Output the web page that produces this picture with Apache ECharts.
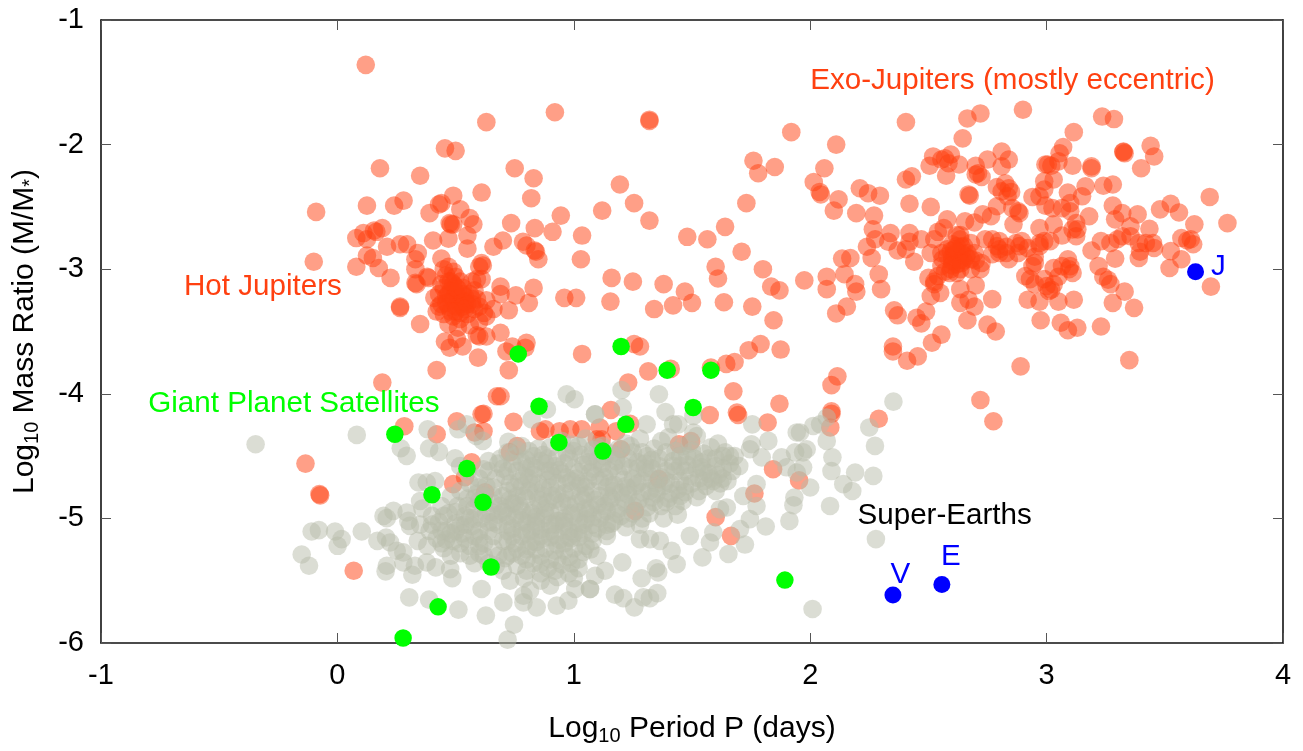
<!DOCTYPE html>
<html><head><meta charset="utf-8">
<style>html,body{margin:0;padding:0;background:#fff}#c{width:1303px;height:751px}</style>
<script src="https://cdn.jsdelivr.net/npm/echarts@6/dist/echarts.min.js"></script>
</head><body><div id="c"></div>
<script>
const xTicks=[-1,0,1,2,3,4];
const yTicks=[-6,-5,-4,-3,-2,-1];
const hotJupiters=[[.12,-1.36],[.63,-1.82],[.92,-1.74],[1.32,-1.80],[1.32,-1.81],[.455,-2.03],[.50,-2.05],[.18,-2.19],[.35,-2.25],[.75,-2.19],[.83,-2.27],[.82,-2.43],[1.195,-2.32],[1.255,-2.47],[1.32,-2.61],[1.12,-2.53],[.945,-2.57],[.91,-2.70],[1.035,-2.73],[1.03,-2.92],[-.09,-2.54],[-.10,-2.94],[.125,-2.49],[.24,-2.49],[.28,-2.45],[.08,-2.75],[.11,-2.71],[.125,-2.76],[.155,-2.69],[.165,-2.70],[.19,-2.67],[.21,-2.82],[.265,-2.80],[.295,-2.80],[.08,-2.98],[.125,-2.89],[.15,-2.91],[.175,-2.99],[.225,-3.07],[.265,-3.30],[.265,-3.31],[.35,-3.44],[.33,-3.11],[.335,-3.12],[.33,-2.92],[.34,-2.87],[.33,-3.0],[.38,-3.06],[.385,-3.07],[.405,-2.77],[.39,-2.55],[.43,-2.48],[.44,-2.47],[.49,-2.41],[.52,-2.52],[.56,-2.59],[.575,-2.64],[.475,-2.63],[.48,-2.64],[.49,-2.64],[.47,-2.755],[.55,-2.73],[.55,-2.835],[.61,-2.385],[.735,-2.63],[.835,-2.67],[.66,-2.82],[.70,-2.77],[.785,-2.78],[.80,-2.81],[.835,-2.85],[.84,-2.86],[.85,-2.92],[.44,-2.915],[.61,-2.95],[.615,-2.97],[.60,-2.98]];
const hotCore=[[.45,-3.0],[.47,-2.98],[.49,-3.02],[.46,-3.05],[.50,-3.06],[.47,-3.1],[.49,-3.12],[.52,-3.1],[.45,-3.15],[.48,-3.17],[.50,-3.18],[.53,-3.2],[.46,-3.22],[.49,-3.24],[.51,-3.25],[.54,-3.22],[.56,-3.2],[.58,-3.17],[.43,-3.2],[.41,-3.23],[.44,-3.28],[.47,-3.3],[.5,-3.3],[.53,-3.3],[.55,-3.28],[.57,-3.28],[.6,-3.3],[.52,-3.35],[.49,-3.38],[.55,-3.36],[.58,-3.32],[.62,-3.35],[.45,-3.36],[.42,-3.34],[.59,-3.08],[.61,-3.08],[.57,-3.1],[.47,-3.44],[.51,-3.47],[.56,-3.45],[.6,-3.42],[.63,-3.38],[.66,-3.32],[.63,-3.25],[.51,-3.22],[.48,-3.25],[.52,-3.28],[.5,-3.14],[.47,-3.2],[.54,-3.26],[.48,-3.1],[.51,-3.16],[.53,-3.15],[.46,-3.27],[.5,-3.34],[.54,-3.32],[.57,-3.24],[.44,-3.12],[.43,-3.3],[.59,-3.24],[.52,-3.4],[.48,-3.34]];
const hotOuter=[[.69,-3.14],[.69,-3.2],[.755,-3.21],[.83,-3.15],[.81,-3.27],[.725,-3.33],[.69,-3.51],[.60,-3.54],[.59,-3.53],[.63,-3.54],[.455,-3.58],[.475,-3.63],[.505,-3.56],[.53,-3.62],[.595,-3.71],[.715,-3.66],[.74,-3.62],[.795,-3.63],[.80,-3.59],[.42,-3.81],[.725,-3.81],[.19,-3.91],[1.035,-3.68],[.96,-3.23],[1.01,-3.23],[1.16,-3.07],[1.155,-3.26],[1.25,-3.10],[1.34,-3.32],[1.38,-3.12],[1.42,-3.29],[1.47,-3.18],[1.255,-3.60],[1.28,-3.62],[1.23,-3.91],[1.315,-3.82],[1.41,-3.80]];
const exoMiddle=[[1.48,-2.74],[1.565,-2.76],[1.64,-2.66],[1.73,-2.47],[1.76,-2.13],[1.85,-2.18],[1.78,-2.23],[1.92,-1.90],[2.11,-2.0],[2.06,-2.19],[2.015,-2.30],[2.04,-2.38],[2.045,-2.40],[2.12,-2.44],[2.10,-2.53],[2.195,-2.55],[2.21,-2.35],[2.245,-2.39],[2.295,-2.41],[2.27,-2.57],[2.265,-2.68],[2.275,-2.76],[2.24,-2.82],[2.26,-2.91],[1.60,-2.98],[1.61,-3.075],[1.71,-2.86],[1.80,-3.0],[1.835,-3.14],[1.87,-3.17],[1.975,-3.09],[2.07,-3.06],[2.07,-3.16],[2.135,-2.915],[2.17,-2.91],[2.145,-3.04],[2.19,-3.12],[2.195,-3.18],[2.29,-3.04],[2.30,-3.16],[2.155,-3.30],[2.11,-3.355],[1.635,-3.265],[1.755,-3.30],[1.50,-3.27],[1.845,-3.41],[1.74,-3.65],[1.79,-3.60],[1.875,-3.645],[1.645,-3.76],[1.68,-3.745],[1.58,-3.79],[1.675,-3.98],[1.87,-4.08],[1.575,-4.17],[1.69,-4.15],[1.695,-4.17],[1.82,-4.23],[2.115,-3.86],[2.09,-3.93],[2.09,-4.14],[2.09,-4.16],[2.085,-4.27],[2.29,-4.20]];
const exoLeftRing=[[2.34,-2.71],[2.33,-2.78],[2.37,-2.85],[2.42,-2.71],[2.42,-2.78],[2.405,-2.84],[2.44,-2.94],[2.47,-2.76],[2.405,-1.82],[2.405,-2.28],[2.43,-2.255],[2.42,-2.475],[2.51,-2.50],[2.52,-2.095],[2.555,-2.12],[2.595,-2.08],[2.585,-2.15],[2.505,-2.17],[2.575,-2.25],[2.63,-2.16],[2.57,-2.11],[2.665,-1.79],[2.72,-1.75],[2.90,-1.72],[3.235,-1.775],[3.285,-1.795],[2.645,-1.95],[3.115,-1.90],[3.07,-2.02],[3.055,-2.07],[3.05,-2.135],[3.44,-2.01],[3.455,-2.095],[3.325,-2.055],[3.325,-2.06],[3.33,-2.07],[3.40,-2.19]];
const exoUpper=[[2.70,-2.17],[2.70,-2.24],[2.725,-2.26],[2.71,-2.23],[2.75,-2.12],[2.81,-2.055],[2.84,-2.12],[2.81,-2.175],[2.995,-2.16],[3.005,-2.16],[3.02,-2.17],[3.11,-2.17],[3.19,-2.175],[3.19,-2.19],[2.67,-2.40],[2.675,-2.41],[2.79,-2.34],[2.825,-2.31],[2.84,-2.35],[2.85,-2.38],[2.81,-2.375],[2.835,-2.415],[2.99,-2.295],[3.03,-2.28],[2.99,-2.36],[2.94,-2.42],[2.97,-2.415],[2.995,-2.49],[3.09,-2.385],[3.165,-2.335],[3.15,-2.415],[3.10,-2.47],[3.065,-2.51],[3.025,-2.51],[3.10,-2.535],[3.18,-2.575],[3.24,-2.33],[3.28,-2.32],[3.28,-2.49],[3.32,-2.55],[3.29,-2.60],[3.385,-2.56],[3.355,-2.655],[3.435,-2.675],[3.48,-2.52],[3.525,-2.475],[3.56,-2.545],[3.625,-2.64],[3.57,-2.75],[3.61,-2.76],[3.595,-2.77],[3.62,-2.80],[2.79,-2.495],[2.765,-2.575],[2.88,-2.535],[2.855,-2.51],[2.885,-2.55],[2.86,-2.64],[2.73,-2.56],[2.695,-2.625],[2.655,-2.615]];
const exoMain=[[2.97,-2.67],[3.03,-2.64],[2.99,-2.775],[2.97,-2.79],[3.015,-2.775],[3.065,-2.73],[3.125,-2.63],[3.13,-2.68],[3.11,-2.68],[3.125,-2.735],[2.58,-2.60],[2.565,-2.67],[2.54,-2.70],[2.525,-2.76],[3.19,-2.85],[3.23,-2.775],[3.27,-2.79],[3.29,-2.915],[3.32,-2.735],[3.30,-2.76],[3.355,-2.735],[3.39,-2.79],[3.395,-2.86],[3.39,-2.91],[3.42,-2.79],[3.455,-2.83],[3.45,-2.79],[3.525,-2.855],[3.57,-2.92],[3.52,-2.99],[3.22,-2.975],[3.24,-3.06],[3.26,-3.085],[3.27,-3.12],[3.03,-2.99],[3.065,-2.975],[3.09,-2.92],[3.10,-2.975],[3.11,-3.03],[3.095,-3.0],[3.05,-3.06],[2.91,-3.055],[2.93,-3.08],[2.95,-3.12],[2.99,-3.08],[3.0,-3.135],[3.02,-3.165],[3.01,-3.175],[3.03,-3.12],[2.92,-3.245],[2.97,-3.26],[3.05,-3.26],[3.115,-3.245],[2.95,-2.90],[2.94,-2.975],[2.95,-2.95],[2.97,-2.815],[2.74,-2.76],[2.77,-2.76],[2.79,-2.815],[2.80,-2.87],[2.77,-2.88],[2.83,-2.87],[2.84,-2.92],[2.87,-2.79],[2.895,-2.775],[2.885,-2.815],[2.80,-2.775]];
const exoCore=[[2.595,-2.855],[2.62,-2.815],[2.635,-2.76],[2.64,-2.87],[2.665,-2.87],[2.635,-2.925],[2.60,-2.935],[2.58,-2.895],[2.555,-2.87],[2.595,-3.0],[2.555,-2.975],[2.54,-3.055],[2.525,-3.12],[2.51,-3.215],[2.55,-3.19],[2.51,-2.87],[2.635,-3.0],[2.68,-3.0],[2.72,-3.0],[2.725,-2.95],[2.695,-2.87],[2.635,-2.725],[2.65,-2.815],[2.68,-2.79],[2.62,-2.725],[2.50,-3.07],[2.635,-3.16],[2.70,-3.13],[2.67,-3.245],[2.635,-3.27],[2.695,-3.30],[2.77,-3.24],[2.525,-3.10],[2.59,-3.03],[2.62,-3.03],[2.61,-2.88],[2.63,-2.90],[2.65,-2.93],[2.6,-2.9],[2.62,-2.96],[2.6,-2.8],[2.64,-2.82],[2.58,-2.84],[2.62,-2.86],[2.66,-2.9],[2.56,-2.92],[2.6,-2.97],[2.64,-2.95],[2.57,-3.02],[2.68,-2.92],[2.61,-2.84],[2.7,-2.93],[2.83,-2.82],[2.8,-2.84],[2.88,-2.87],[2.92,-2.83]];
const exoLower=[[2.355,-3.33],[2.37,-3.37],[2.45,-3.39],[2.47,-3.435],[2.49,-3.34],[2.555,-3.525],[2.515,-3.59],[2.35,-3.62],[2.35,-3.66],[2.41,-3.735],[2.455,-3.70],[2.665,-3.41],[2.75,-3.445],[2.785,-3.50],[2.975,-3.41],[3.06,-3.43],[3.09,-3.49],[3.13,-3.47],[3.23,-3.46],[3.35,-3.73],[2.89,-3.78],[2.72,-4.05],[2.775,-4.22],[3.37,-3.31],[3.28,-3.27],[3.33,-3.18],[3.695,-3.14],[3.69,-2.42],[3.765,-2.63]];
const lowOrange=[[.675,-4.02],[.69,-4.02],[.618,-4.16],[.61,-4.165],[.505,-4.22],[.283,-4.26],[.42,-4.325],[.745,-4.225],[.58,-4.31],[.618,-4.30],[.857,-4.30],[.88,-4.285],[.94,-4.30],[.985,-4.285],[1.033,-4.285],[1.097,-4.365],[.76,-4.42],[.73,-4.47],[.568,-4.55],[.54,-4.67],[.49,-4.725],[.625,-4.79],[-.135,-4.56],[-.076,-4.805],[-.073,-4.815],[.069,-5.42],[1.157,-4.13],[1.238,-4.24],[1.18,-4.30],[1.11,-4.27],[1.118,-4.365],[1.2,-4.445],[1.445,-4.405],[1.496,-4.38],[1.843,-4.605],[1.953,-4.695],[1.764,-4.80],[1.60,-4.99],[1.665,-5.14],[1.259,-4.94],[1.36,-4.685]];
const earthsLeft=[[-.346,-4.405],[.082,-4.33],[.382,-4.285],[.512,-4.285],[.547,-4.245],[.268,-4.437],[.293,-4.498],[.388,-4.437],[.43,-4.466],[.498,-4.517],[.519,-4.58],[.615,-4.378],[.587,-4.338],[.723,-4.386],[.822,-4.205],[.886,-4.125],[.97,-4.004],[1.003,-4.044],[1.09,-4.165],[.639,-4.54],[.618,-4.605],[.343,-4.712],[.378,-4.712],[.413,-4.70],[.35,-4.86],[.195,-4.98],[.209,-4.998],[.237,-4.94],[.293,-4.953],[.30,-5.02],[.307,-5.06],[-.109,-5.105],[-.078,-5.094],[-.01,-5.105],[.018,-5.166],[.001,-5.22],[.103,-5.105],[-.151,-5.29],[-.12,-5.38],[.169,-5.18],[.206,-5.153],[.223,-5.193],[.251,-5.26],[.279,-5.273],[.209,-5.38],[.204,-5.425],[.279,-5.353],[.328,-5.38],[.317,-5.452],[.378,-5.353],[.416,-5.393],[.477,-5.407],[.486,-5.479],[.61,-5.567],[.304,-5.634],[.388,-5.652],[.512,-5.732],[.628,-5.78],[.747,-5.853],[.72,-5.973],[.702,-5.674],[.787,-5.674],[.843,-5.714],[.928,-5.70],[.977,-5.66],[1.069,-5.567],[1.006,-5.567],[.90,-5.54],[.815,-5.58],[.787,-5.62]];
const earthsLeftMid=[[.36,-4.92],[.4,-4.98],[.44,-4.9],[.48,-4.82],[.52,-4.78],[.56,-4.72],[.6,-4.68],[.64,-4.62],[.68,-4.56],[.35,-5.05],[.39,-5.1],[.43,-5.03],[.47,-4.96],[.51,-4.9],[.55,-4.84],[.59,-4.8],[.63,-4.74],[.67,-4.68],[.34,-5.18],[.38,-5.22],[.42,-5.16],[.46,-5.1],[.5,-5.04],[.54,-4.98],[.58,-4.92],[.62,-4.88],[.66,-4.82],[.45,-5.24],[.49,-5.18],[.53,-5.12],[.57,-5.06],[.61,-5.0],[.65,-4.95],[.69,-4.9],[.52,-5.28],[.56,-5.22],[.6,-5.16],[.64,-5.1],[.68,-5.05],[.58,-5.36],[.62,-5.3],[.66,-5.24],[.7,-5.18],[.67,-5.38],[.71,-5.32]];
const earthsCoreA=[[.72,-4.47],[.78,-4.42],[.83,-4.5],[.9,-4.43],[.95,-4.38],[1.0,-4.46],[1.05,-4.36],[1.1,-4.43],[1.16,-4.48],[1.22,-4.4],[1.28,-4.36],[1.34,-4.44],[1.4,-4.35],[1.46,-4.42],[1.52,-4.34],[1.58,-4.43],[1.64,-4.47],[.74,-4.56],[.8,-4.6],[.86,-4.54],[.92,-4.58],[.98,-4.52],[1.04,-4.57],[1.1,-4.53],[1.17,-4.58],[1.23,-4.52],[1.3,-4.56],[1.36,-4.52],[1.42,-4.58],[1.48,-4.5],[1.54,-4.55],[1.6,-4.52],[1.66,-4.56],[.71,-4.66],[.77,-4.7],[.83,-4.65],[.89,-4.69],[.95,-4.64],[1.01,-4.68],[1.07,-4.63],[1.13,-4.67],[1.19,-4.64],[1.25,-4.68],[1.31,-4.63],[1.37,-4.67],[1.43,-4.62],[1.49,-4.66],[1.55,-4.62],[1.61,-4.65],[1.67,-4.62]];
const earthsCoreB=[[.72,-4.78],[.78,-4.74],[.84,-4.79],[.9,-4.75],[.96,-4.8],[1.02,-4.74],[1.08,-4.78],[1.14,-4.75],[1.2,-4.79],[1.26,-4.74],[1.32,-4.78],[1.38,-4.74],[1.44,-4.77],[1.5,-4.72],[1.56,-4.74],[1.62,-4.72],[.74,-4.88],[.8,-4.84],[.86,-4.89],[.92,-4.85],[.98,-4.9],[1.04,-4.85],[1.1,-4.89],[1.16,-4.84],[1.22,-4.88],[1.28,-4.84],[1.34,-4.87],[1.4,-4.84],[1.46,-4.86],[1.52,-4.83],[.72,-4.98],[.78,-4.94],[.84,-4.99],[.9,-4.95],[.96,-5.0],[1.02,-4.95],[1.08,-4.99],[1.14,-4.94],[1.2,-4.98],[1.32,-4.96],[1.38,-5.0],[1.44,-4.97],[.74,-5.08],[.8,-5.04],[.86,-5.09],[.92,-5.05],[.98,-5.1],[1.04,-5.05],[1.1,-5.08],[1.16,-5.04],[1.22,-5.07],[1.28,-5.05]];
const earthsCoreC=[[.72,-5.18],[.78,-5.14],[.84,-5.19],[.9,-5.15],[.96,-5.2],[1.02,-5.15],[1.08,-5.18],[1.14,-5.14],[.74,-5.28],[.8,-5.25],[.86,-5.3],[.92,-5.26],[.98,-5.31],[1.04,-5.27],[1.1,-5.3],[.76,-5.38],[.83,-5.36],[.89,-5.4],[.95,-5.37],[1.02,-5.4],[.79,-5.48],[.86,-5.5],[.93,-5.47],[1.0,-5.48],[.73,-5.5],[.88,-4.62],[.97,-4.72],[1.06,-4.7],[1.15,-4.82],[.88,-4.92],[.94,-5.02],[1.0,-5.12],[.82,-5.1],[1.12,-4.6],[1.27,-4.6],[1.35,-4.72],[1.45,-4.7],[1.52,-4.6],[1.58,-4.68],[.76,-4.82],[.82,-4.72],[1.22,-4.74],[1.05,-4.92]];
const earthsCoreD=[[.75,-4.5],[.81,-4.46],[.87,-4.49],[.93,-4.51],[.99,-4.41],[1.03,-4.49],[1.08,-4.45],[1.13,-4.5],[1.19,-4.44],[1.25,-4.47],[1.31,-4.5],[1.37,-4.38],[1.43,-4.46],[1.49,-4.4],[1.55,-4.48],[1.61,-4.4],[1.68,-4.5],[.7,-4.6],[.76,-4.62],[.82,-4.58],[.88,-4.56],[.94,-4.61],[1.0,-4.6],[1.06,-4.55],[1.12,-4.56],[1.18,-4.54],[1.24,-4.6],[1.3,-4.6],[1.36,-4.58],[1.42,-4.54],[1.48,-4.57],[1.54,-4.59],[1.6,-4.58],[1.66,-4.5],[1.7,-4.58],[.73,-4.72],[.79,-4.66],[.85,-4.72],[.91,-4.66],[.97,-4.67],[1.03,-4.72],[1.09,-4.66],[1.15,-4.72],[1.21,-4.69],[1.27,-4.72],[1.33,-4.69],[1.39,-4.7],[1.47,-4.62],[1.53,-4.68],[1.59,-4.7],[1.65,-4.7]];
const earthsCoreE=[[.7,-4.82],[.75,-4.88],[.81,-4.78],[.87,-4.82],[.93,-4.8],[.99,-4.78],[1.05,-4.81],[1.11,-4.82],[1.17,-4.78],[1.23,-4.81],[1.29,-4.79],[1.35,-4.8],[1.41,-4.8],[1.47,-4.79],[1.53,-4.78],[1.6,-4.78],[.71,-4.92],[.77,-4.9],[.83,-4.93],[.89,-4.87],[.95,-4.87],[1.01,-4.88],[1.07,-4.92],[1.13,-4.9],[1.19,-4.92],[1.25,-4.9],[1.31,-4.91],[1.37,-4.9],[1.43,-4.9],[.75,-5.0],[.81,-4.98],[.87,-5.0],[.93,-5.02],[.99,-4.96],[1.05,-5.01],[1.11,-5.0],[1.17,-5.02],[1.23,-5.0],[1.29,-5.0],[.72,-5.1],[.78,-5.09],[.84,-5.06],[.9,-5.1],[.96,-5.06],[1.02,-5.09],[1.08,-5.12],[1.14,-5.1]];
const earthsCoreF=[[.75,-5.2],[.81,-5.22],[.87,-5.16],[.93,-5.21],[.99,-5.16],[1.05,-5.22],[.72,-5.3],[.78,-5.3],[.84,-5.25],[.9,-5.33],[.96,-5.26],[1.02,-5.33],[1.07,-5.25],[.8,-5.42],[.86,-5.44],[.92,-5.42],[.98,-5.44],[.55,-4.62],[.6,-4.75],[.66,-4.75],[.62,-4.82],[.68,-4.97],[.64,-5.03],[.58,-5.0],[.54,-5.05],[.5,-5.1],[.46,-5.17],[.52,-5.2],[.58,-5.14],[.62,-5.2],[.66,-5.14],[.6,-5.28],[.64,-5.36],[.68,-5.3],[.7,-5.42],[.56,-5.3],[.48,-5.3],[.44,-5.1],[.4,-5.05],[.45,-4.98],[.5,-4.95],[.55,-4.9],[.6,-4.86],[.66,-4.88]];
const earthsCoreG=[[.69,-4.52],[.76,-4.45],[.8,-4.53],[.85,-4.44],[.89,-4.52],[.97,-4.47],[1.02,-4.42],[1.07,-4.5],[1.12,-4.42],[1.18,-4.5],[1.24,-4.42],[1.29,-4.47],[1.33,-4.53],[1.39,-4.47],[1.45,-4.5],[1.5,-4.46],[1.57,-4.52],[1.63,-4.5],[.72,-4.62],[.78,-4.55],[.84,-4.6],[.9,-4.62],[.96,-4.56],[1.02,-4.63],[1.08,-4.6],[1.15,-4.62],[1.21,-4.58],[1.27,-4.55],[1.33,-4.6],[1.39,-4.62],[1.45,-4.58],[1.51,-4.52],[1.57,-4.64],[1.63,-4.6],[.75,-4.75],[.81,-4.68],[.87,-4.76],[.93,-4.72],[.99,-4.7],[1.05,-4.75],[1.11,-4.7],[1.17,-4.73],[1.23,-4.76],[1.29,-4.7],[1.35,-4.76],[1.41,-4.72],[1.47,-4.74],[1.55,-4.7],[1.63,-4.68],[.73,-4.85],[.79,-4.82],[.85,-4.85],[.91,-4.82],[.97,-4.85],[1.03,-4.82],[1.09,-4.85],[1.15,-4.87],[1.21,-4.84],[1.27,-4.87],[1.33,-4.83],[1.39,-4.87],[1.45,-4.82]];
const earthsCoreH=[[.7,-4.95],[.76,-4.97],[.82,-4.96],[.88,-4.97],[.94,-4.94],[1.0,-4.98],[1.06,-4.96],[1.12,-4.96],[1.18,-4.96],[1.25,-4.96],[.72,-5.05],[.78,-5.02],[.84,-5.03],[.9,-5.05],[.96,-5.03],[1.02,-5.03],[1.08,-5.05],[1.14,-5.05],[.74,-5.14],[.8,-5.12],[.86,-5.14],[.92,-5.13],[.98,-5.15],[1.04,-5.12],[.76,-5.24],[.82,-5.18],[.88,-5.24],[.94,-5.17],[1.0,-5.24],[.8,-5.33],[.86,-5.36],[.93,-5.33],[.99,-5.36],[.6,-5.1],[.56,-5.0],[.63,-4.96],[.58,-4.84],[.66,-5.03],[.52,-5.06],[.48,-5.12],[.54,-5.16],[.6,-5.22],[.44,-5.2]];
const earthsRight=[[1.36,-4.004],[1.388,-4.146],[1.202,-3.97],[1.207,-4.11],[1.09,-4.165],[1.506,-4.178],[1.442,-4.245],[1.42,-4.245],[1.308,-4.245],[1.506,-4.31],[1.755,-4.245],[1.823,-4.378],[1.752,-4.405],[1.745,-4.445],[1.795,-4.51],[1.943,-4.31],[1.957,-4.31],[2.013,-4.258],[2.042,-4.245],[2.07,-4.19],[2.352,-4.063],[2.25,-4.27],[2.274,-4.418],[2.07,-4.378],[1.985,-4.445],[1.97,-4.47],[1.936,-4.47],[2.094,-4.51],[2.09,-4.62],[1.879,-4.51],[1.90,-4.59],[1.97,-4.59],[1.943,-4.632],[2.0,-4.752],[2.19,-4.632],[2.267,-4.659],[2.14,-4.725],[2.178,-4.78],[2.084,-4.9],[1.933,-4.832],[1.929,-4.894],[1.912,-5.02],[1.812,-5.065],[2.278,-5.166],[2.01,-5.727],[1.773,-4.725],[1.717,-4.82],[1.773,-4.9],[1.745,-5.006],[1.703,-5.086],[1.724,-5.21],[1.654,-5.286],[1.544,-5.313],[1.59,-5.112],[1.576,-5.193],[1.491,-5.14],[1.647,-4.912],[1.618,-4.926],[1.435,-5.367],[1.357,-5.433],[1.348,-5.40],[1.287,-5.48],[1.205,-5.353],[1.353,-5.6],[1.322,-5.64],[1.294,-5.634],[1.256,-5.714],[1.209,-5.64],[1.174,-5.612],[1.068,-5.567],[1.132,-5.42],[1.09,-5.46],[1.414,-5.26],[1.364,-5.18],[1.322,-5.166],[1.28,-5.166]];
const satellites=[[.765,-3.68],[1.2,-3.62],[1.395,-3.81],[1.58,-3.81],[.853,-4.10],[1.505,-4.11],[.243,-4.325],[1.22,-4.245],[.937,-4.39],[1.123,-4.46],[.548,-4.6],[.40,-4.81],[.616,-4.87],[.65,-5.39],[.426,-5.71],[.278,-5.96],[1.893,-5.495]];
const solarPlanets=[[3.63,-3.02],[2.35,-5.615],[2.557,-5.53]];
const orangeLabels=[[2.0,-1.49,'Exo-Jupiters (mostly eccentric)'],[-.649,-3.14,'Hot Jupiters']];
const greenLabels=[[-.80,-4.08,'Giant Planet Satellites']];
const blackLabels=[[2.2,-4.98,'Super-Earths']];
const blueLabels=[[3.695,-2.98,'J'],[2.34,-5.455,'V'],[2.553,-5.31,'E']];

const FONT='"Liberation Sans",Arial,sans-serif';
const ORANGE=[...hotJupiters,...hotCore,...hotOuter,...exoMiddle,...exoLeftRing,...exoUpper,...exoMain,...exoCore,...exoLower,...lowOrange];
const GRAY=[...earthsLeft,...earthsLeftMid,...earthsCoreA,...earthsCoreB,...earthsCoreC,...earthsCoreD,...earthsCoreE,...earthsCoreF,...earthsCoreG,...earthsCoreH,...earthsRight];
function dots(data,size,color,opacity,z){return{type:'scatter',data,symbol:'circle',symbolSize:size,clip:false,silent:true,z,large:false,
  itemStyle:{color,opacity,borderWidth:0},animation:false};}
function texts(data,color){return{type:'scatter',data,symbolSize:0,clip:false,silent:true,z:9,animation:false,itemStyle:{opacity:1},
  label:{show:true,opacity:1,position:'right',distance:0,padding:0,color,fontFamily:FONT,fontSize:29.6,formatter:p=>p.data[2]}};}
const rich={a:{fontFamily:FONT,fontSize:30,color:'#000'},s:{fontFamily:FONT,fontSize:20,color:'#000',verticalAlign:'bottom',padding:[14,0,0,0]},u:{fontFamily:FONT,fontSize:20,color:'#000',padding:[10,0,0,0]}};
const axisBase={type:'value',axisLine:{onZero:false,lineStyle:{color:'#111',width:1.6}},
  axisTick:{inside:true,length:10,lineStyle:{color:'#555',width:1}},splitLine:{show:false}};
const lab={color:'#000',fontFamily:FONT,fontSize:29};
const chart=echarts.init(document.getElementById('c'),null,{renderer:'canvas'});
chart.setOption({backgroundColor:'#fff',animation:false,
 grid:{left:101,top:20,width:1182,height:624,containLabel:false},
 xAxis:[
  {...axisBase,position:'bottom',min:xTicks[0],max:xTicks[5],interval:1,axisLabel:{...lab,margin:18},
   name:'{a|Log}{s|10}{a| Period P (days)}',nameLocation:'middle',nameGap:69,nameTextStyle:{rich}},
  {...axisBase,position:'top',min:xTicks[0],max:xTicks[5],interval:1,axisLabel:{show:false}}],
 yAxis:[
  {...axisBase,position:'left',min:yTicks[0],max:yTicks[5],interval:1,axisLabel:{...lab,margin:17,padding:[0,0,5,0]},
   name:'{a|Log}{s|10}{a| Mass Ratio (M/M}{u|*}{a|)}',nameLocation:'middle',nameGap:59,nameTextStyle:{rich}},
  {...axisBase,position:'right',min:yTicks[0],max:yTicks[5],interval:1,axisLabel:{show:false}}],
 series:[dots(ORANGE,18.6,'#ff4010',.5,2),dots(GRAY,18.6,'#b8bcaa',.5,3),dots(satellites,17.5,'#00ff00',1,4),dots(solarPlanets,17,'#0000ff',1,5),
  texts(orangeLabels,'#ff4010'),texts(greenLabels,'#00ff00'),texts(blackLabels,'#000'),texts(blueLabels,'#0000ff')]
});
</script></body></html>
